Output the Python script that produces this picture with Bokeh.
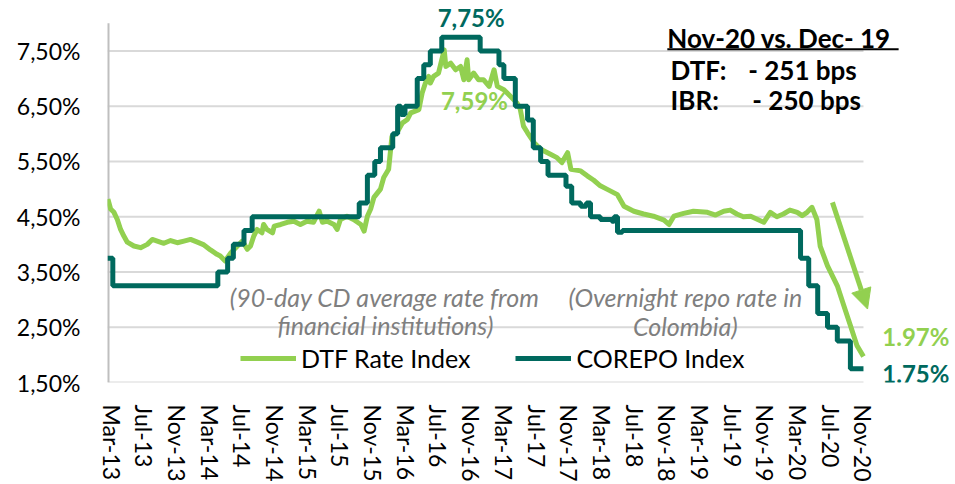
from bokeh.plotting import figure
from bokeh.models import Range1d, FixedTicker, Label, Arrow, NormalHead, CustomJSTickFormatter
from bokeh.embed import file_html
from bokeh.resources import INLINE

FONT = "Lato"
GREEN = "#92D050"
TEAL = "#00695E"
GRAY = "#7F7F7F"

# x positions are month index counted from Mar-2013 (0 = Mar-13)
tick_months = list(range(0, 93, 4))
tick_labels = ["Mar-13", "Jul-13", "Nov-13", "Mar-14", "Jul-14", "Nov-14",
               "Mar-15", "Jul-15", "Nov-15", "Mar-16", "Jul-16", "Nov-16",
               "Mar-17", "Jul-17", "Nov-17", "Mar-18", "Jul-18", "Nov-18",
               "Mar-19", "Jul-19", "Nov-19", "Mar-20", "Jul-20", "Nov-20"]
y_ticks = [1.5, 2.5, 3.5, 4.5, 5.5, 6.5, 7.5]
x_first, x_last = -0.5, 92.0     # extent of the data axis
y_low, y_high = 1.5, 8.0

# DTF Rate Index (90-day CD rate), %
dtf_month = [-0.45, -0.12, 0.29, 0.70, 1.10, 1.50, 1.92, 2.73, 3.55, 4.37, 4.98, 5.59,
             6.40, 7.22, 8.04, 8.85, 9.66, 10.5, 11.3, 12.1, 12.9, 13.3, 13.9, 14.6,
             15.4, 16.0, 16.6, 17.0, 17.4, 17.8, 18.4, 18.6, 19.0, 19.7, 19.9, 20.7,
             21.5, 22.3, 23.1, 23.9, 24.7, 25.4, 25.8, 26.4, 27.2, 27.6, 28.0, 28.8,
             29.6, 30.5, 30.9, 31.3, 31.7, 32.1, 32.9, 33.3, 33.9, 34.3, 34.9, 35.6,
             36.2, 36.6, 37.6, 38.0, 38.4, 38.8, 39.0, 39.4, 40.0, 40.7, 40.9, 41.5,
             42.1, 42.7, 43.1, 43.5, 43.7, 44.3, 44.9, 45.5, 46.2, 46.8, 47.2, 48.0,
             48.8, 49.6, 50.0, 50.4, 50.9, 51.7, 52.5, 53.7, 54.5, 55.1, 55.8, 56.2,
             57.4, 58.2, 59.0, 59.8, 60.6, 61.9, 62.7, 63.9, 65.1, 66.3, 67.6, 68.2,
             68.8, 70.0, 71.2, 72.9, 73.9, 74.9, 75.7, 76.5, 77.3, 78.2, 79.8, 80.6,
             81.4, 82.2, 83.0, 83.9, 84.5, 85.1, 85.7, 86.3, 86.7, 87.6, 88.8, 89.6,
             90.4, 91.2, 92.0]
dtf_rate = [4.82, 4.64, 4.58, 4.45, 4.27, 4.15, 4.04, 3.97, 3.94, 4.00, 4.09, 4.06,
            4.02, 4.07, 4.03, 4.06, 4.09, 4.04, 3.99, 3.90, 3.82, 3.79, 3.70, 3.85,
            3.97, 4.06, 3.91, 3.97, 4.15, 4.27, 4.21, 4.36, 4.27, 4.21, 4.33, 4.36,
            4.40, 4.42, 4.36, 4.42, 4.40, 4.60, 4.40, 4.42, 4.36, 4.27, 4.45, 4.51,
            4.45, 4.36, 4.24, 4.51, 4.64, 4.85, 5.00, 5.21, 5.36, 5.95, 6.02, 6.20,
            6.26, 6.38, 6.44, 6.74, 6.92, 7.04, 6.92, 7.04, 7.10, 7.52, 7.22, 7.28,
            7.16, 7.22, 6.98, 7.34, 6.98, 7.10, 6.98, 6.98, 6.86, 7.16, 6.86, 6.80,
            6.68, 6.56, 6.45, 6.14, 6.02, 5.84, 5.72, 5.63, 5.57, 5.48, 5.66, 5.36,
            5.33, 5.24, 5.16, 5.06, 5.00, 4.90, 4.69, 4.60, 4.55, 4.51, 4.44, 4.36,
            4.51, 4.56, 4.60, 4.58, 4.53, 4.60, 4.62, 4.55, 4.50, 4.51, 4.40, 4.58,
            4.50, 4.55, 4.62, 4.58, 4.52, 4.58, 4.67, 4.45, 3.97, 3.61, 3.25, 2.89,
            2.53, 2.17, 1.97]

# COREPO Index (overnight repo rate), % - value holds from each month index on
corepo_month = [-0.5, 0.15, 13.0, 14.2, 14.9, 16.2, 17.2, 30.3, 31.3, 32.2, 32.9, 34.4,
                35.0, 35.4, 35.9, 37.4, 38.2, 39.0, 40.4, 45.1, 47.4, 48.0, 49.4, 50.9,
                51.6, 52.5, 53.4, 55.6, 56.3, 57.4, 58.1, 58.6, 59.8, 61.2, 61.5, 61.9,
                62.5, 84.3, 85.3, 86.4, 87.6, 88.8, 90.4, 92.0]
corepo_rate = [3.75, 3.25, 3.50, 3.75, 4.00, 4.25, 4.50, 4.75, 5.25, 5.50, 5.75, 6.00,
               6.50, 6.35, 6.50, 7.00, 7.25, 7.50, 7.75, 7.50, 7.25, 7.00, 6.50, 6.25,
               5.75, 5.50, 5.25, 5.05, 4.75, 4.69, 4.75, 4.50, 4.45, 4.42, 4.50, 4.22,
               4.25, 3.75, 3.25, 2.75, 2.50, 2.25, 1.75, 1.75]

# frame extends right/up so the annotations outside the data area are not clipped
p = figure(width=955, height=484, x_range=Range1d(x_first, 103.26), y_range=Range1d(y_low, 8.414),
           output_backend="svg", toolbar_location=None,
           min_border_left=107, min_border_right=0, min_border_top=0, min_border_bottom=100)
p.outline_line_color = None
p.background_fill_color = "white"
p.xgrid.grid_line_color = None
p.ygrid.grid_line_color = None

# horizontal gridlines and the vertical axis line, limited to the data area
p.segment(x0=x_first, x1=x_last, y0=y_ticks, y1=y_ticks, line_color="#D9D9D9", line_width=2)
p.segment(x0=x_first, x1=x_first, y0=y_low, y1=y_high, line_color="#BFBFBF", line_width=4)

p.yaxis.ticker = FixedTicker(ticks=y_ticks)
p.yaxis.formatter = CustomJSTickFormatter(code="return tick.toFixed(2).replace('.', ',') + '%';")
p.yaxis.axis_line_color = None
p.yaxis.major_tick_line_color = None
p.yaxis.minor_tick_line_color = None
p.yaxis.major_label_text_font = FONT
p.yaxis.major_label_text_font_size = "23px"
p.yaxis.major_label_text_color = "#000000"
p.yaxis.major_label_standoff = 21

p.xaxis.ticker = FixedTicker(ticks=tick_months)
p.xaxis.major_label_overrides = {m: lab for m, lab in zip(tick_months, tick_labels)}
p.xaxis.major_label_orientation = "vertical"
p.xaxis.axis_line_color = None
p.xaxis.major_tick_line_color = None
p.xaxis.minor_tick_line_color = None
p.xaxis.major_label_text_font = FONT
p.xaxis.major_label_text_font_size = "23px"
p.xaxis.major_label_text_color = "#000000"
p.xaxis.major_label_standoff = 16

p.line(dtf_month, dtf_rate, line_color=GREEN, line_width=5, line_join="round",
       legend_label="DTF Rate Index")
p.step(corepo_month, corepo_rate, mode="after", line_color=TEAL, line_width=5,
       legend_label="COREPO Index")

leg = p.legend[0]
leg.orientation = "horizontal"
leg.location = (133, 9)
leg.padding = 0
leg.margin = 0
leg.spacing = 45
leg.glyph_width = 56
leg.label_standoff = 5
leg.label_text_font = FONT
leg.label_text_font_size = "25px"
leg.label_text_color = "#000000"
leg.border_line_color = None
leg.background_fill_alpha = 0


def add_label(x, y, text, color, size, style="normal", align="center"):
    p.add_layout(Label(x=x, y=y, text=text, text_color=color, text_font=FONT,
                       text_font_size=size, text_font_style=style, text_align=align,
                       text_baseline="middle"))


add_label(44.0, 8.11, "7,75%", TEAL, "24px", "bold")
add_label(44.4, 6.61, "7,59%", GREEN, "24px", "bold")
add_label(68.0, 7.73, "Nov-20 vs. Dec- 19", "#000000", "26px", "bold", "left")
add_label(68.4, 7.15, "DTF:", "#000000", "26px", "bold", "left")
add_label(77.9, 7.15, "- 251 bps", "#000000", "26px", "bold", "left")
add_label(68.4, 6.61, "IBR:", "#000000", "26px", "bold", "left")
add_label(78.4, 6.61, "- 250 bps", "#000000", "26px", "bold", "left")
add_label(33.4, 3.05, "(90-day CD average rate from", GRAY, "25px", "italic")
add_label(33.5, 2.54, "financial institutions)", GRAY, "25px", "italic")
add_label(70.2, 3.05, "(Overnight repo rate in", GRAY, "25px", "italic")
add_label(70.2, 2.53, "Colombia)", GRAY, "25px", "italic")
add_label(94.3, 2.33, "1.97%", GREEN, "24px", "bold", "left")
add_label(94.3, 1.66, "1.75%", TEAL, "24px", "bold", "left")

p.add_layout(Arrow(x_start=68.0, y_start=7.53, x_end=96.3, y_end=7.53, end=None,
                   line_color="#000000", line_width=2))
p.add_layout(Arrow(x_start=88.2, y_start=4.76, x_end=92.5, y_end=2.83,
                   line_color=GREEN, line_width=5,
                   end=NormalHead(size=20, fill_color=GREEN, line_color=GREEN)))

open("out.html", "w").write(file_html(p, INLINE))
